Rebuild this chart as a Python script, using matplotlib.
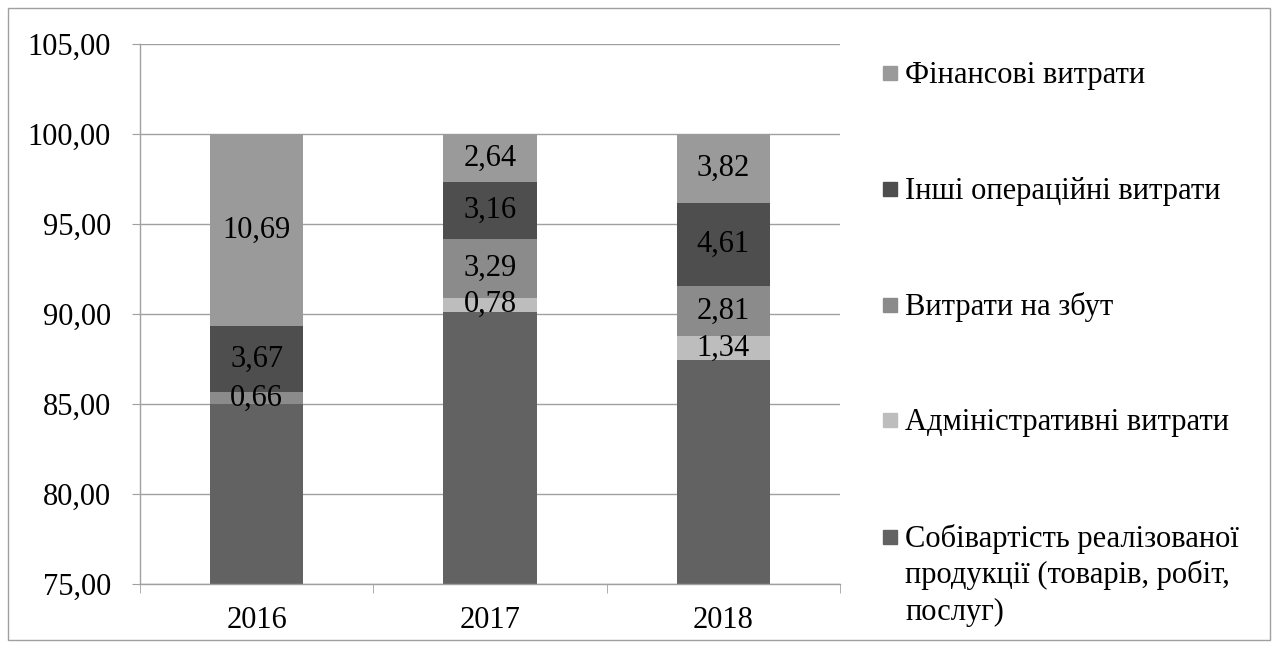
import numpy as np
import matplotlib.pyplot as plt
from matplotlib.patches import Rectangle

plt.rcParams['font.family'] = ['Liberation Serif', 'DejaVu Serif']

years = ['2016', '2017', '2018']
series_names = ['Собівартість реалізованої\nпродукції (товарів, робіт,\nпослуг)',
                'Адміністративні витрати',
                'Витрати на збут',
                'Інші операційні витрати',
                'Фінансові витрати']
cost_of_sales = [84.98, 90.12, 87.42]
admin_costs = [0.0, 0.78, 1.34]
sales_costs = [0.66, 3.29, 2.81]
other_costs = [3.67, 3.16, 4.61]
finance_costs = [10.69, 2.64, 3.82]
colors = ['#626262', '#bdbdbd', '#8b8b8b', '#4e4e4e', '#9a9a9a']

values = [cost_of_sales, admin_costs, sales_costs, other_costs, finance_costs]

W, H = 1280, 648
fig = plt.figure(figsize=(W / 100, H / 100), dpi=100)
ax = fig.add_axes([140/W, 1 - 584/H, (840-140)/W, (584-44)/H])

x = np.arange(len(years))
bottom = np.zeros(len(years))
for vals, c in zip(values, colors):
    vals = np.array(vals)
    ax.bar(x, vals, 0.4, bottom=bottom, color=c, zorder=2)
    for xi, b, v in zip(x, bottom, vals):
        if v > 0:
            ax.text(xi, b + v / 2, f'{v:.2f}'.replace('.', ','), ha='center',
                    va='center', fontsize=22, color='black', zorder=3)
    bottom += vals

ax.set_ylim(75, 105)
ax.set_xlim(-0.5, 2.5)
yt = np.arange(75, 106, 5)
ax.set_yticks(yt)
ax.set_yticklabels([f'{v:.2f}'.replace('.', ',') for v in yt], fontsize=22)
ax.set_xticks(x)
ax.set_xticklabels(years, fontsize=22)
ax.set_xticks([-0.5, 0.5, 1.5, 2.5], minor=True)
ax.tick_params(axis='x', which='major', length=0, pad=16)
ax.tick_params(axis='x', which='minor', length=6.5, color='#a0a0a0')
ax.tick_params(axis='y', length=6, color='#a0a0a0', pad=15)
ax.grid(axis='y', color='#a0a0a0', linewidth=1, zorder=1)
for s in ['top', 'right']:
    ax.spines[s].set_visible(False)
for s in ['left', 'bottom']:
    ax.spines[s].set_color('#a0a0a0')
    ax.spines[s].set_linewidth(1)

# legend drawn by hand, top entry first (baseline of first text line)
leg_base = [83, 199, 315, 430, 547]
for yy, name, c in zip(leg_base, series_names[::-1], colors[::-1]):
    fig.patches.append(Rectangle((883/W, 1 - (yy - 3)/H), 14/W, 14/H,
                                 transform=fig.transFigure, color=c))
    for i, ln in enumerate(name.split('\n')):
        fig.text(905/W, 1 - (yy + i * 36.5)/H, ln, fontsize=22,
                 ha='left', va='baseline')

# thin frame round the whole chart
fig.patches.append(Rectangle((8/W, 8/H), 1262/W, 632/H,
                             transform=fig.transFigure, fill=False,
                             edgecolor='#a0a0a0', linewidth=1))

fig.savefig('out.png', dpi=100)
